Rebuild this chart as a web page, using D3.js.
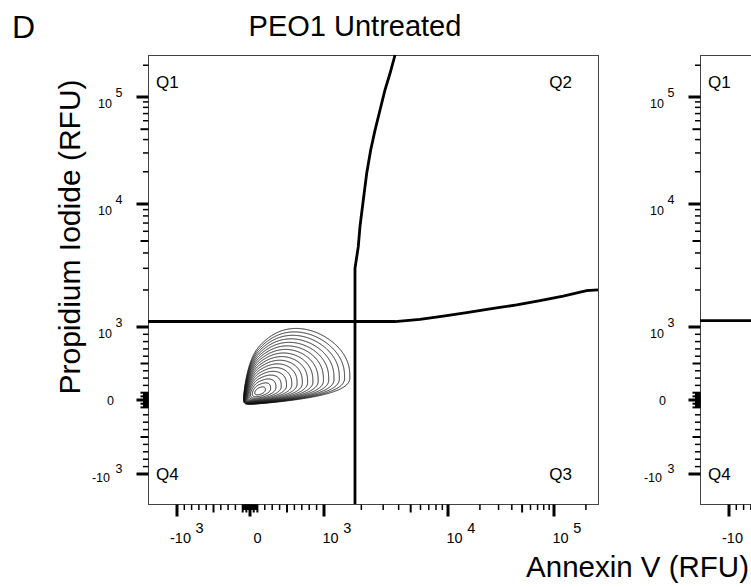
<!DOCTYPE html>
<html><head><meta charset="utf-8">
<script src="https://cdn.jsdelivr.net/npm/d3@7"></script>
<style>body{margin:0;background:#fff} svg{display:block} text{font-family:"Liberation Sans",Arial,Helvetica,sans-serif;fill:#000}</style>
</head><body><svg id="c" width="751" height="587"></svg>
<script>
// ---------- data ----------
const panelLetter = "D";
const panelTitle = "PEO1 Untreated";
const xAxisTitle = "Annexin V (RFU)";
const yAxisTitle = "Propidium Iodide (RFU)";
const quadrantLabels = ["Q1", "Q2", "Q3", "Q4"];
const tickValues = [-1000, 0, 1000, 10000, 100000];
const tickBase = ["-10", "0", "10", "10", "10"];
const tickExp = ["3", "", "3", "4", "5"];
const xDomain = [-1778, 260000];
const yDomain = [-1778, 250000];
// quadrant gate (RFU)
const gateHx = [-1778, 3740, 5940, 9170, 15000, 26800, 44500, 73800, 122000, 203000, 260000];
const gateHy = [1108, 1108, 1155, 1228, 1307, 1419, 1510, 1636, 1786, 1972, 2000];
const gateVx = [1778, 1778, 1890, 1950, 2075, 2210, 2380, 2580, 2830, 3100, 3400, 3740];
const gateVy = [-1778, 3000, 4500, 6540, 10900, 19400, 32000, 49000, 75600, 116000, 166000, 250000];
const gate2Hx = [-1778, 1000];
const gate2Hy = [1125, 1125];
// cell population (contour density)
const popCorner = [-137, -108];   // RFU, lower-left bound of the population
const popMedian = [123, 120];     // RFU
const popLogSD = [0.97, 0.727];
const popShear = 0.45;
const popSquareness = 3;
const contourRadii = [0.283, 0.479, 0.644, 0.787, 0.912, 1.023, 1.124, 1.215, 1.299, 1.377, 1.449, 1.517, 1.580, 1.640, 1.697, 1.750, 1.801];

// ---------- display transform (biexponential-like) ----------
function T(v) { const a = Math.abs(v); return a <= 1000 ? v / 1000 : Math.sign(v) * (1 + Math.log10(a / 1000)); }
const xKnots = [xDomain[0], -1000, 0, 1000, 10000, 100000, xDomain[1]];
const yKnots = [yDomain[0], -1000, 0, 1000, 10000, 100000, yDomain[1]];
const xKnotPx = [0, 29, 102, 176, 300, 406, 450];
const yKnotPx = [449, 419, 345, 272, 149, 42, 0];
function makeX(left) { const s = d3.scaleLinear().domain(xKnots.map(T)).range(xKnotPx.map(p => left + p)); return v => s(T(v)); }
function makeY(top) { const s = d3.scaleLinear().domain(yKnots.map(T)).range(yKnotPx.map(p => top + p)); return v => s(T(v)); }

// tick list
const allTicks = [];
[10, 100].forEach(d => { for (let m = 1; m <= 9; m++) { allTicks.push(m * d, -m * d); } });
allTicks.push(0, 1000, -1000);
[1000, 10000, 100000].forEach(d => { for (let m = 2; m <= 9; m++) allTicks.push(m * d); });
allTicks.push(10000, 100000);
function tickKind(v) {
  if (tickValues.includes(v)) return 0;
  const a = Math.abs(v); const lead = a / Math.pow(10, Math.floor(Math.log10(a)));
  if (Math.abs(lead - 5) < 1e-9 || a === 100) return 1;
  return 2;
}
const tickLen = [12, 8, 5.5], tickW = [3, 2, 1.5];

const svg = d3.select("#c");
const W = 450, H = 449;
const TICKFS = 12.5, XTICKFS = 14.5;

function drawPanel(g, left, top, opts) {
  const x = makeX(left), y = makeY(top);
  g.append("rect").attr("x", left + 0.5).attr("y", top + 0.5).attr("width", W).attr("height", H)
    .attr("fill", "none").attr("stroke", "#444").attr("stroke-width", 1);
  allTicks.filter(v => v >= yDomain[0] && v <= yDomain[1]).forEach(v => {
    const k = tickKind(v);
    g.append("line").attr("x1", left + 0.5 - tickLen[k]).attr("x2", left + 0.5).attr("y1", y(v)).attr("y2", y(v))
      .attr("stroke", "#000").attr("stroke-width", tickW[k]);
  });
  allTicks.filter(v => v >= xDomain[0] && v <= xDomain[1]).forEach(v => {
    const k = tickKind(v);
    g.append("line").attr("y1", top + H + 0.5).attr("y2", top + H + 0.5 + tickLen[k]).attr("x1", x(v)).attr("x2", x(v))
      .attr("stroke", "#000").attr("stroke-width", tickW[k]);
  });
  tickValues.forEach((v, i) => {
    const ty = y(v);
    if (tickExp[i] === "") {
      g.append("text").attr("x", left - 34).attr("y", ty + 5).attr("text-anchor", "end").attr("font-size", TICKFS).text(tickBase[i]);
    } else {
      const neg = tickBase[i].startsWith("-");
      g.append("text").attr("x", left - (neg ? 38 : 36)).attr("y", ty + (neg ? 8 : 11)).attr("text-anchor", "end").attr("font-size", TICKFS).text(tickBase[i]);
      g.append("text").attr("x", left - 32.5).attr("y", ty + (neg ? -1 : 0)).attr("font-size", TICKFS).text(tickExp[i]);
    }
  });
  tickValues.forEach((v, i) => {
    const tx = x(v), by = top + H + 39;
    if (tx > 751) return;
    if (tickExp[i] === "") {
      g.append("text").attr("x", tx + 7.5).attr("y", by).attr("text-anchor", "middle").attr("font-size", XTICKFS).text(tickBase[i]);
    } else {
      const neg = tickBase[i].startsWith("-");
      const x0 = tx - (neg ? 7 : 1.5);
      const t = g.append("text").attr("x", x0).attr("y", by).attr("font-size", XTICKFS).text(tickBase[i]);
      const w = t.node().getComputedTextLength();
      if (x0 + w + 12 < 751)
        g.append("text").attr("x", x0 + w + 4.5).attr("y", by - 10).attr("font-size", XTICKFS).text(tickExp[i]);
    }
  });
  g.append("text").attr("x", left + 8).attr("y", top + 33).attr("font-size", 17).text(quadrantLabels[0]);
  g.append("text").attr("x", left + 8).attr("y", top + 425).attr("font-size", 17).text(quadrantLabels[3]);
  if (opts.full) {
    g.append("text").attr("x", left + 424).attr("y", top + 33).attr("text-anchor", "end").attr("font-size", 17).text(quadrantLabels[1]);
    g.append("text").attr("x", left + 424).attr("y", top + 425).attr("text-anchor", "end").attr("font-size", 17).text(quadrantLabels[2]);
  }
  return { x, y };
}

// panel 2 (partially visible)
const g2 = svg.append("g");
const p2 = drawPanel(g2, 700, 55, { full: false });
g2.append("path").datum(gate2Hx.map((v, i) => [v, gate2Hy[i]]))
  .attr("d", d3.line().x(d => p2.x(d[0])).y(d => p2.y(d[1])))
  .attr("fill", "none").attr("stroke", "#000").attr("stroke-width", 2.8);

// panel 1
const g1 = svg.append("g");
g1.append("rect").attr("x", 0).attr("y", 0).attr("width", 643).attr("height", 540).attr("fill", "#fff");
const p1 = drawPanel(g1, 148, 55, { full: true });

// contours
(function () {
  const x = p1.x, y = p1.y;
  const cx = x(popCorner[0]), cy = y(popCorner[1]);
  const mX = x(popMedian[0]) - cx, mY = cy - y(popMedian[1]);
  const gx0 = 236, gy0 = 300, res = 0.5, nx = 280, ny = 230;
  const vals = new Array(nx * ny);
  const s = popShear, p = popSquareness;
  for (let j = 0; j < ny; j++) for (let i = 0; i < nx; i++) {
    const px = gx0 + i * res, py = gy0 + j * res;
    const X = px - cx, Y = cy - py;
    let val = 0;
    if (X > 0 && Y > 0) {
      const lx = (Math.log(X) - Math.log(mX)) / popLogSD[0];
      const ly = (Math.log(Y) - Math.log(mY)) / popLogSD[1];
      const lyp = ly - s * lx;
      let d;
      if (lx > 0 && lyp > 0) d = Math.pow(Math.pow(lx, p) + Math.pow(lyp, p), 1 / p);
      else d = Math.sqrt(lx * lx + lyp * lyp);
      val = Math.exp(-d * d / 2);
    }
    vals[j * nx + i] = val;
  }
  const th = contourRadii.map(R => Math.exp(-R * R / 2)).sort((a, b) => a - b);
  const cs = d3.contours().size([nx, ny]).thresholds(th)(vals);
  const proj = d3.geoTransform({ point: function (a, b) { this.stream.point(gx0 + a * res, gy0 + b * res); } });
  const path = d3.geoPath(proj);
  g1.append("g").selectAll("path").data(cs).join("path").attr("d", path)
    .attr("fill", "none").attr("stroke", "#111").attr("stroke-width", 0.9);
})();

// gates
const line1 = d3.line().x(d => p1.x(d[0])).y(d => p1.y(d[1]));
g1.append("path").datum(gateHx.map((v, i) => [v, gateHy[i]])).attr("d", line1)
  .attr("fill", "none").attr("stroke", "#000").attr("stroke-width", 2.8);
g1.append("path").datum(gateVx.map((v, i) => [v, gateVy[i]])).attr("d", line1)
  .attr("fill", "none").attr("stroke", "#000").attr("stroke-width", 2.8);

// titles
svg.append("text").attr("x", 12).attr("y", 38).attr("font-size", 32).text(panelLetter);
svg.append("text").attr("x", 355).attr("y", 36).attr("text-anchor", "middle").attr("font-size", 29).text(panelTitle);
svg.append("text").attr("transform", "translate(80,237) rotate(-90)").attr("text-anchor", "middle").attr("font-size", 30).text(yAxisTitle);
svg.append("text").attr("x", 749).attr("y", 577).attr("text-anchor", "end").attr("font-size", 29.5).text(xAxisTitle);
</script></body></html>
